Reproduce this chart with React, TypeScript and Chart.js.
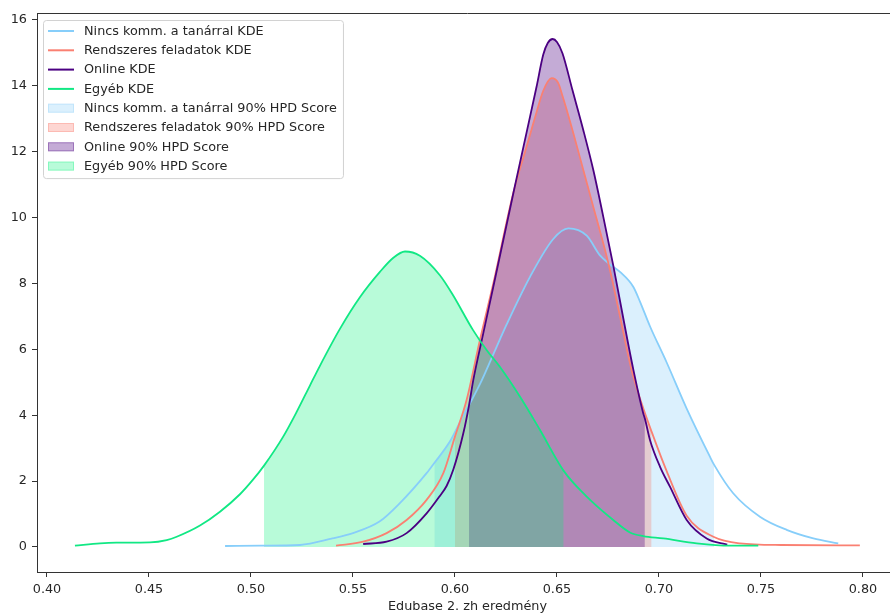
import React, { useEffect, useRef } from "react";
import { Chart, registerables } from "chart.js";

Chart.register(...registerables);

const FONT_FAMILY = "'DejaVu Sans', 'Liberation Sans', sans-serif";
const FONT_SIZE = 12.8;
const TEXT_COLOR = "#262626";
const SPINE_COLOR = "#333333";

// Group names, in plotting order
const groupNames = ["Nincs komm. a tanárral", "Rendszeres feladatok", "Online", "Egyéb"];
const lineColors = ["#87CEFA", "#FA8072", "#4B0082", "#11E884"];
const fillColors = [
  "rgba(135,206,250,0.30)",
  "rgba(250,128,114,0.32)",
  "rgba(75,0,130,0.33)",
  "rgba(0,240,120,0.28)",
];

// Kernel density estimates (score, density)
const nincsX = [0.4873, 0.505, 0.524, 0.540, 0.550, 0.563, 0.573, 0.5861, 0.5899, 0.5975, 0.6025, 0.6123, 0.6188, 0.6253, 0.6368, 0.6482, 0.6556, 0.6646, 0.6711, 0.676, 0.6809, 0.6874, 0.6907, 0.6956, 0.7038, 0.7136, 0.725, 0.727, 0.7364, 0.7495, 0.7626, 0.7757, 0.7879];
const nincsY = [0.03, 0.04, 0.06, 0.26, 0.42, 0.77, 1.33, 2.24, 2.55, 3.2, 3.8, 4.95, 5.85, 6.75, 8.2, 9.35, 9.67, 9.45, 8.85, 8.58, 8.35, 7.9, 7.45, 6.7, 5.6, 4.2, 2.74, 2.5, 1.63, 0.92, 0.52, 0.26, 0.11];

const rendszeresX = [0.5417, 0.555, 0.5665, 0.5763, 0.5861, 0.5943, 0.600, 0.6057, 0.6123, 0.6188, 0.6286, 0.6351, 0.640, 0.6433, 0.6474, 0.6505, 0.6527, 0.6576, 0.6629, 0.6678, 0.6727, 0.676, 0.6815, 0.6866, 0.6915, 0.6964, 0.7038, 0.7136, 0.7267, 0.7397, 0.760, 0.7985];
const rendszeresY = [0.04, 0.16, 0.42, 0.82, 1.43, 2.24, 3.35, 4.46, 6.3, 8.0, 10.75, 12.15, 13.2, 13.85, 14.23, 14.1, 13.7, 12.66, 11.45, 10.33, 9.22, 8.41, 6.83, 5.37, 4.36, 3.5, 2.3, 0.95, 0.31, 0.11, 0.06, 0.05];

const onlineX = [0.555, 0.5665, 0.5763, 0.5861, 0.5926, 0.5959, 0.5992, 0.6041, 0.6069, 0.609, 0.6139, 0.6188, 0.6286, 0.6351, 0.640, 0.6433, 0.6455, 0.6479, 0.650, 0.6527, 0.6576, 0.6629, 0.6678, 0.6727, 0.6776, 0.6825, 0.6874, 0.6923, 0.6931, 0.6956, 0.7005, 0.7054, 0.7136, 0.7234, 0.7335];
const onlineY = [0.09, 0.16, 0.42, 1.02, 1.55, 1.85, 2.35, 3.45, 4.3, 5.07, 6.49, 7.9, 10.73, 12.58, 13.97, 14.95, 15.3, 15.42, 15.33, 14.99, 13.87, 12.66, 11.45, 10.03, 8.55, 6.95, 5.4, 4.06, 3.9, 3.25, 2.44, 1.83, 0.82, 0.26, 0.07];

const egyebX = [0.4137, 0.426, 0.434, 0.4505, 0.4587, 0.4636, 0.475, 0.4848, 0.4946, 0.5011, 0.5064, 0.5158, 0.5224, 0.5289, 0.5338, 0.5436, 0.5534, 0.5632, 0.5698, 0.5755, 0.5828, 0.5926, 0.599, 0.6088, 0.6155, 0.622, 0.6319, 0.6417, 0.6533, 0.6646, 0.6776, 0.6858, 0.6923, 0.7021, 0.7185, 0.7348, 0.7487];
const egyebY = [0.04, 0.11, 0.13, 0.14, 0.21, 0.31, 0.65, 1.07, 1.6, 2.05, 2.47, 3.35, 4.1, 4.9, 5.5, 6.62, 7.58, 8.35, 8.78, 8.97, 8.84, 8.25, 7.65, 6.59, 5.98, 5.47, 4.56, 3.55, 2.31, 1.53, 0.82, 0.44, 0.33, 0.26, 0.11, 0.04, 0.04];

// 90% HPD intervals per group
const hpdLow = [0.5899, 0.6000, 0.6069, 0.5064];
const hpdHigh = [0.7270, 0.6964, 0.6931, 0.6533];

const xTicks = [0.40, 0.45, 0.50, 0.55, 0.60, 0.65, 0.70, 0.75, 0.80];
const yTicks = [0, 2, 4, 6, 8, 10, 12, 14, 16];

const X_MIN = 0.3951;
const X_MAX = 0.8172;
const Y_MIN = -0.76;
const Y_MAX = 16.21;

const kdeX = [nincsX, rendszeresX, onlineX, egyebX];
const kdeY = [nincsY, rendszeresY, onlineY, egyebY];

const font = { family: FONT_FAMILY, size: FONT_SIZE };

// Matplotlib-style legend box drawn inside the plot area
const legendPlugin = {
  id: "insideLegend",
  afterDraw(chart: any) {
    const ctx = chart.ctx as CanvasRenderingContext2D;
    const left = 43;
    const top = 20;
    const rowH = 19.3;
    const firstRow = 31;
    const handleX0 = 48;
    const handleX1 = 74;
    const textX = 84;
    const labels = [
      ...groupNames.map((n) => `${n} KDE`),
      ...groupNames.map((n) => `${n} 90% HPD Score`),
    ];
    ctx.save();
    ctx.font = `${FONT_SIZE}px ${FONT_FAMILY}`;
    const maxW = Math.max(...labels.map((l) => ctx.measureText(l).width));
    const right = textX + maxW + 6;
    const bottom = firstRow + rowH * (labels.length - 1) + 12;
    ctx.beginPath();
    ctx.roundRect(left + 0.5, top + 0.5, right - left, bottom - top, 3);
    ctx.fillStyle = "rgba(255,255,255,0.8)";
    ctx.fill();
    ctx.strokeStyle = "#d2d2d2";
    ctx.lineWidth = 1;
    ctx.stroke();

    labels.forEach((label, i) => {
      const cy = firstRow + i * rowH;
      if (i < 4) {
        ctx.beginPath();
        ctx.moveTo(handleX0, cy);
        ctx.lineTo(handleX1, cy);
        ctx.strokeStyle = lineColors[i];
        ctx.lineWidth = 2;
        ctx.stroke();
      } else {
        const g = i - 4;
        ctx.fillStyle = fillColors[g];
        ctx.fillRect(handleX0, cy - 4.5, handleX1 - handleX0, 9);
        ctx.strokeStyle = fillColors[g];
        ctx.lineWidth = 1;
        ctx.strokeRect(handleX0 + 0.5, cy - 4, handleX1 - handleX0 - 1, 8);
      }
      ctx.fillStyle = TEXT_COLOR;
      ctx.textBaseline = "middle";
      ctx.textAlign = "left";
      ctx.fillText(label, textX, cy + 0.5);
    });
    ctx.restore();
  },
};

// Top spine of the axes frame
const framePlugin = {
  id: "topSpine",
  afterDatasetsDraw(chart: any) {
    const { ctx, chartArea } = chart;
    ctx.save();
    ctx.strokeStyle = SPINE_COLOR;
    ctx.lineWidth = 1;
    ctx.beginPath();
    ctx.moveTo(chartArea.left, chartArea.top + 0.5);
    ctx.lineTo(chartArea.right, chartArea.top + 0.5);
    ctx.stroke();
    ctx.restore();
  },
};

export default function App() {
  const canvasRef = useRef<HTMLCanvasElement | null>(null);

  useEffect(() => {
    const canvas = canvasRef.current;
    if (!canvas) return;

    const lineSets = groupNames.map((name, g) => ({
      label: `${name} KDE`,
      data: kdeX[g].map((x, i) => ({ x, y: kdeY[g][i] })),
      borderColor: lineColors[g],
      borderWidth: 1.8,
      pointRadius: 0,
      fill: false,
      cubicInterpolationMode: "monotone" as const,
      order: 4 - g,
    }));

    const fillSets = groupNames.map((name, g) => ({
      label: `${name} 90% HPD Score`,
      data: kdeX[g]
        .map((x, i) => ({ x, y: kdeY[g][i] }))
        .filter((p) => p.x >= hpdLow[g] - 1e-9 && p.x <= hpdHigh[g] + 1e-9),
      borderColor: "transparent",
      borderWidth: 0,
      backgroundColor: fillColors[g],
      pointRadius: 0,
      fill: "origin",
      cubicInterpolationMode: "monotone" as const,
      order: 8 - g,
    }));

    const chart = new Chart(canvas, {
      type: "line",
      data: { datasets: [...lineSets, ...fillSets] as any },
      options: {
        animation: false,
        responsive: false,
        devicePixelRatio: 1,
        layout: { padding: { top: 13, right: 2, left: 0, bottom: 0 } },
        plugins: {
          legend: { display: false },
          tooltip: { enabled: false },
        },
        scales: {
          x: {
            type: "linear",
            min: X_MIN,
            max: X_MAX,
            afterBuildTicks: (scale: any) => {
              scale.ticks = xTicks.map((v) => ({ value: v }));
            },
            afterFit: (scale: any) => {
              scale.height = 43;
            },
            ticks: {
              font,
              color: TEXT_COLOR,
              padding: 5,
              maxRotation: 0,
              autoSkip: false,
              callback: (v: any) => Number(v).toFixed(2),
            },
            grid: {
              drawOnChartArea: false,
              drawTicks: true,
              tickLength: 5,
              tickColor: SPINE_COLOR,
            },
            border: { display: true, color: SPINE_COLOR, width: 1 },
            title: {
              display: true,
              text: "Edubase 2. zh eredmény",
              font,
              color: TEXT_COLOR,
              padding: { top: 0, bottom: 1 },
            },
          },
          y: {
            type: "linear",
            min: Y_MIN,
            max: Y_MAX,
            afterBuildTicks: (scale: any) => {
              scale.ticks = yTicks.map((v) => ({ value: v }));
            },
            afterFit: (scale: any) => {
              scale.width = 37;
            },
            ticks: {
              font,
              color: TEXT_COLOR,
              padding: 5,
              autoSkip: false,
              callback: (v: any) => String(v),
            },
            grid: {
              drawOnChartArea: false,
              drawTicks: true,
              tickLength: 5,
              tickColor: SPINE_COLOR,
            },
            border: { display: true, color: SPINE_COLOR, width: 1 },
          },
        },
      },
      plugins: [framePlugin, legendPlugin],
    });

    return () => chart.destroy();
  }, []);

  return (
    <div
      style={{
        position: "fixed",
        left: 0,
        top: 0,
        width: 890,
        height: 615,
        overflow: "hidden",
        background: "#ffffff",
      }}
    >
      <canvas ref={canvasRef} width={900} height={615} style={{ display: "block" }} />
    </div>
  );
}
